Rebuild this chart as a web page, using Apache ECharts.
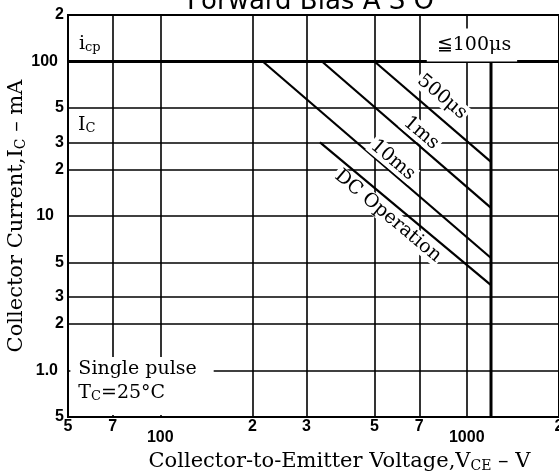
<!DOCTYPE html>
<html><head><meta charset="utf-8">
<script src="https://cdn.jsdelivr.net/npm/echarts@6/dist/echarts.min.js"></script>
<style>html,body{margin:0;padding:0;background:#fff}#c{width:559px;height:471px}</style>
</head><body><div id="c"></div>
<script>
// ---- data ----
const xTickValues = [50, 70, 100, 200, 300, 500, 700, 1000, 2000];
const xTickLabels = ['5', '7', '100', '2', '3', '5', '7', '1000', '2'];
const yTickValues = [0.5, 1, 2, 3, 5, 10, 20, 30, 50, 100, 200];
const yTickLabels = ['5', '1.0', '2', '3', '5', '10', '2', '3', '5', '100', '2'];

const pulse500usV = [500, 1200];
const pulse500usI = [100, 22.4];
const pulse1msV = [337, 1200];
const pulse1msI = [100, 11.3];
const pulse10msV = [216, 1200];
const pulse10msI = [100, 5.35];
const dcV = [332, 1200];
const dcI = [30, 3.57];
const icpLimitV = [50, 2000];
const icpLimitI = [100, 100];
const vceoLimitV = [1200, 1200];
const vceoLimitI = [100, 0.5];

// ---- chart ----
const serif = '"DejaVu Serif", serif';
const tickFont = '"Liberation Sans", Arial, sans-serif';
const pair = (xs, ys) => xs.map((x, i) => [x, ys[i]]);
const idxOf = (vals, v) => vals.findIndex(t => Math.abs(Math.log10(t) - Math.log10(v)) < 1e-6);

function lineSeries(name, xs, ys, w, marks) {
  const s = {
    type: 'line', name: name, data: pair(xs, ys), symbol: 'none', silent: true,
    lineStyle: { color: '#000', width: w }, z: 3
  };
  if (marks) {
    s.markPoint = {
      symbol: 'circle', symbolSize: 0, silent: true, animation: false,
      itemStyle: { color: 'rgba(0,0,0,0)' },
      data: marks
    };
  }
  return s;
}

function diagLabel(text, coord) {
  return {
    coord: coord,
    label: {
      show: true, position: 'inside', formatter: text, rotate: -40,
      fontFamily: serif, fontSize: 19, color: '#000',
      backgroundColor: '#fff', padding: [0, 2, 0, 2]
    }
  };
}

const subRich = {
  n: { fontFamily: serif, fontSize: 19, color: '#000' },
  s: { fontFamily: serif, fontSize: 13, color: '#000', padding: [8, 0, 0, 0] }
};

const annotations = [
  diagLabel('500μs', [830, 58.9]),
  diagLabel('1ms', [710, 34.4]),
  diagLabel('10ms', [574, 23.0]),
  diagLabel('DC Operation', [553, 10.0]),
  {
    coord: [54.3, 130],
    label: { show: true, position: 'right', distance: 0, formatter: '{n|i}{s|cp}', rich: subRich }
  },
  {
    coord: [53.9, 38.8],
    label: { show: true, position: 'right', distance: 0, formatter: '{n|I}{s|C}', rich: subRich }
  },
  {
    coord: [1040, 128],
    label: {
      show: true, position: 'inside', formatter: '≦100μs',
      fontFamily: serif, fontSize: 19, color: '#000',
      backgroundColor: '#fff', padding: [5, 6, 9, 10]
    }
  },
  {
    coord: [50.9, 0.794],
    label: {
      show: true, position: 'right', distance: 0,
      formatter: '{n|Single pulse}\n{n|T}{s|C}{n|=25°C}',
      backgroundColor: '#fff', padding: [0, 17, 10, 8], lineHeight: 24,
      rich: {
        n: { fontFamily: serif, fontSize: 19, color: '#000', lineHeight: 24 },
        s: { fontFamily: serif, fontSize: 13, color: '#000', lineHeight: 24, padding: [8, 0, 0, 0] }
      }
    }
  }
];

const chart = echarts.init(document.getElementById('c'), null, { renderer: 'canvas' });
chart.setOption({
  animation: false,
  backgroundColor: '#fff',
  title: {
    text: 'Forward Bias A S O', left: 187, top: -11, padding: 0,
    textStyle: { fontFamily: '"DejaVu Sans", sans-serif', fontSize: 26, fontWeight: 'normal', color: '#000' }
  },
  grid: {
    left: 68, top: 15, width: 491, height: 402, show: true,
    borderColor: '#000', borderWidth: 2, outerBoundsMode: 'none', containLabel: false
  },
  xAxis: {
    type: 'log', logBase: 10, min: 50, max: 2000,
    axisLine: { show: false },
    axisTick: { show: false, customValues: xTickValues },
    splitLine: { show: true, lineStyle: { color: '#000', width: 1.6 } },
    axisLabel: {
      customValues: xTickValues, margin: 2, showMinLabel: true, showMaxLabel: true,
      fontFamily: tickFont, fontWeight: 'bold', fontSize: 16, color: '#000',
      formatter: v => {
        const i = idxOf(xTickValues, v);
        if (i < 0) return '';
        const t = xTickLabels[i];
        return t.length >= 3 ? '{lo|' + t + '}' : t;
      },
      rich: { lo: { fontFamily: tickFont, fontWeight: 'bold', fontSize: 16, color: '#000', padding: [11, 0, 0, 0] } }
    },
    name: 'Collector-to-Emitter Voltage,V{s|CE} – V', nameLocation: 'middle', nameGap: 34,
    nameTextStyle: {
      fontFamily: serif, fontSize: 21, color: '#000', padding: [0, 0, 0, 52],
      rich: { s: { fontFamily: serif, fontSize: 14, color: '#000', padding: [8, 0, 0, 0] } }
    }
  },
  yAxis: {
    type: 'log', logBase: 10, min: 0.5, max: 200,
    axisLine: { show: false },
    axisTick: { show: false, customValues: yTickValues },
    splitLine: { show: true, lineStyle: { color: '#000', width: 1.6 } },
    axisLabel: {
      customValues: yTickValues, margin: 4, showMinLabel: true, showMaxLabel: true,
      fontFamily: tickFont, fontWeight: 'bold', fontSize: 16, color: '#000',
      formatter: v => {
        const i = idxOf(yTickValues, v);
        if (i < 0) return '';
        const t = yTickLabels[i];
        if (t === '10') return '{p10|' + t + '}';
        if (t.length >= 3) return '{p6|' + t + '}';
        return t;
      },
      rich: {
        p10: { fontFamily: tickFont, fontWeight: 'bold', fontSize: 16, color: '#000', padding: [0, 10, 0, 0] },
        p6: { fontFamily: tickFont, fontWeight: 'bold', fontSize: 16, color: '#000', padding: [0, 6, 0, 0] }
      }
    },
    name: 'Collector Current,I{s|C} – mA', nameLocation: 'middle', nameGap: 40, nameMoveOverlap: false,
    nameTextStyle: {
      fontFamily: serif, fontSize: 21, color: '#000',
      rich: { s: { fontFamily: serif, fontSize: 14, color: '#000', padding: [8, 0, 0, 0] } }
    }
  },
  series: [
    lineSeries('icp', icpLimitV, icpLimitI, 3),
    lineSeries('VCEO', vceoLimitV, vceoLimitI, 3),
    lineSeries('500us', pulse500usV, pulse500usI, 2.2),
    lineSeries('1ms', pulse1msV, pulse1msI, 2.2),
    lineSeries('10ms', pulse10msV, pulse10msI, 2.2),
    lineSeries('DC', dcV, dcI, 2.2, annotations)
  ]
});
</script>
</body></html>
